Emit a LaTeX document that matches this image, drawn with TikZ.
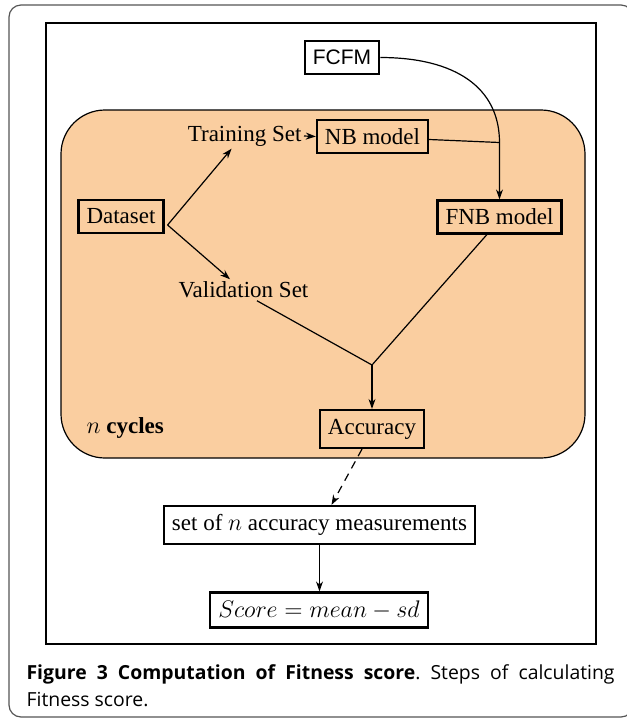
\documentclass[tikz,border=0pt]{standalone}
\usepackage{fontspec}
\setmainfont{Liberation Serif}
\newfontfamily\fcfmfont{Liberation Sans}
\newfontfamily\capfont{Open Sans}
\usepackage{tikz}
\usetikzlibrary{
  arrows.meta,
  positioning,
  calc,
}
\definecolor{cycleOrange}{RGB}{250,206,160}
\definecolor{frameGray}{HTML}{555555}

\tikzset{
  box/.style={draw, line width=1.1pt, inner xsep=4pt, inner ysep=2pt,
              minimum height=16.5pt, font=\fontsize{11.5}{13}\selectfont},
  plain/.style={inner sep=1pt, font=\fontsize{11.5}{13}\selectfont},
  arr/.style={-{Stealth[length=5pt, width=3.5pt]}},
}

\begin{document}
\begin{tikzpicture}[x=0.5pt, y=-0.5pt, line width=0.6pt]
  \useasboundingbox (0,0) rectangle (627,719);
  % frames
  \draw[frameGray, rounded corners=6pt] (9,5) rectangle (633,717);
  \draw[line width=1pt] (46,23) rectangle (596,644);
  \draw[fill=cycleOrange, rounded corners=22pt] (61,110) rectangle (585,458);

  % nodes
  \node[box, font=\fcfmfont\fontsize{10.5}{12}\selectfont] (fcfm) at (342,57.5) {FCFM};
  \node[box] (nb) at (372.5,136.5) {NB model};
  \node[plain, anchor=east] (train) at (304,136) {Training Set};
  \node[box] (dataset) at (121,216.5) {Dataset};
  \node[box] (fnb) at (499.5,217) {FNB model};
  \node[plain] (valid) at (243.5,290) {Validation Set};
  \coordinate (join) at (372,365);
  \node[box, minimum height=19pt] (acc) at (372,429) {Accuracy};
  \node[plain, anchor=west] (cycles) at (84,428) {$n$ \textbf{cycles}};
  \node[box, minimum height=19pt] (meas) at (319.5,525) {set of $n$ accuracy measurements};
  \node[box, minimum height=17.5pt] (score) at (319,610) {$Score = mean - sd$};
  \node[anchor=north west, inner sep=0, text width=294pt, align=justify,
        font=\capfont\fontsize{9.7}{13.5}\selectfont\frenchspacing] (caption) at (26,664)
    {\textbf{Figure 3 Computation of Fitness score}. Steps of calculating\linebreak Fitness score.};

  % connectors
  \coordinate (split) at ([xshift=1.5pt, yshift=-4.25pt]dataset.east);
  \coordinate (merge) at ($(fnb.north |- nb.east)+(0,6)$);
  \draw[arr] (split) -- ($(train.south west)!0.39!(train.south east)$);
  \draw[arr] (split) -- ($(valid.north west)!0.4!(valid.north east)$);
  \draw[arr] (train.east) -- (nb.west);
  \draw[arr] (fcfm.east) .. controls +(75,0) and +(0,-55) .. (merge) -- (fnb.north);
  \draw ([yshift=-1.5pt]nb.east) -- (merge);
  \draw ($(valid.south west)!0.6!(valid.south east)$) -- (join);
  \draw ($(fnb.south west)!0.4!(fnb.south east)$) -- (join);
  \draw[arr] (join) -- (acc.north);
  \draw[arr, dash pattern=on 4pt off 3pt] ([xshift=-5pt]acc.south) -- ([xshift=6pt]meas.north);
  \draw[arr] (meas.south) -- (meas.south |- score.north);
\end{tikzpicture}
\end{document}
